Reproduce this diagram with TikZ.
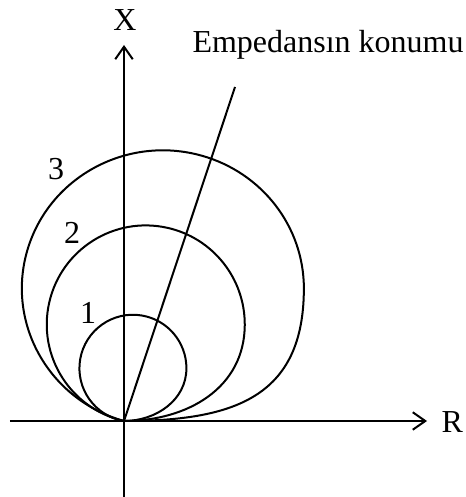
\documentclass[tikz,border=0pt]{standalone}
\usepackage{fontspec}
\setmainfont{Liberation Serif}
\usetikzlibrary{arrows.meta}
\tikzset{
  axisline/.style={-{Straight Barb[length=5pt,width=7pt]},line width=0.8pt},
  relaycurve/.style={line width=0.8pt},
  plotlabel/.style={inner sep=0pt,font=\fontsize{12.8}{15}\selectfont}
}

\begin{document}
\begin{tikzpicture}[x=0.4pt,y=0.4pt]
\useasboundingbox (-124,-76) rectangle (341,421);
\coordinate (O) at (0,0);
\coordinate (Rstart) at (-114,0);
\coordinate (Rend) at (303,0);
\coordinate (Xstart) at (0,-76);
\coordinate (Xend) at (0,376);
\coordinate (Z) at (111,334);
\draw[axisline] (Rstart) -- (Rend);
\draw[axisline] (Xstart) -- (Xend);
\node[plotlabel,anchor=west] (rlabel) at (317,-1) {R};
\node[plotlabel] (xlabel) at (1,401) {X};
% relay characteristics
\draw[relaycurve] (O) arc[start angle=260.4,end angle=0,radius=53.5] to[out=-90,in=0] (O);
\draw[relaycurve] (O) arc[start angle=257.3,end angle=0,radius=99] to[out=-90,in=0,looseness=1.05] (O);
\draw[relaycurve] (O) arc[start angle=254,end angle=0,x radius=141,y radius=138] to[out=-90,in=0,looseness=1.25] (O);
\node[plotlabel] (one) at (-36,108) {1};
\node[plotlabel] (two) at (-52,188) {2};
\node[plotlabel] (three) at (-68,252) {3};
% impedance line
\draw[relaycurve] (O) -- (Z);
\node[plotlabel,anchor=base west] (zlabel) at (68,368) {Empedansın konumu};
\end{tikzpicture}
\end{document}
